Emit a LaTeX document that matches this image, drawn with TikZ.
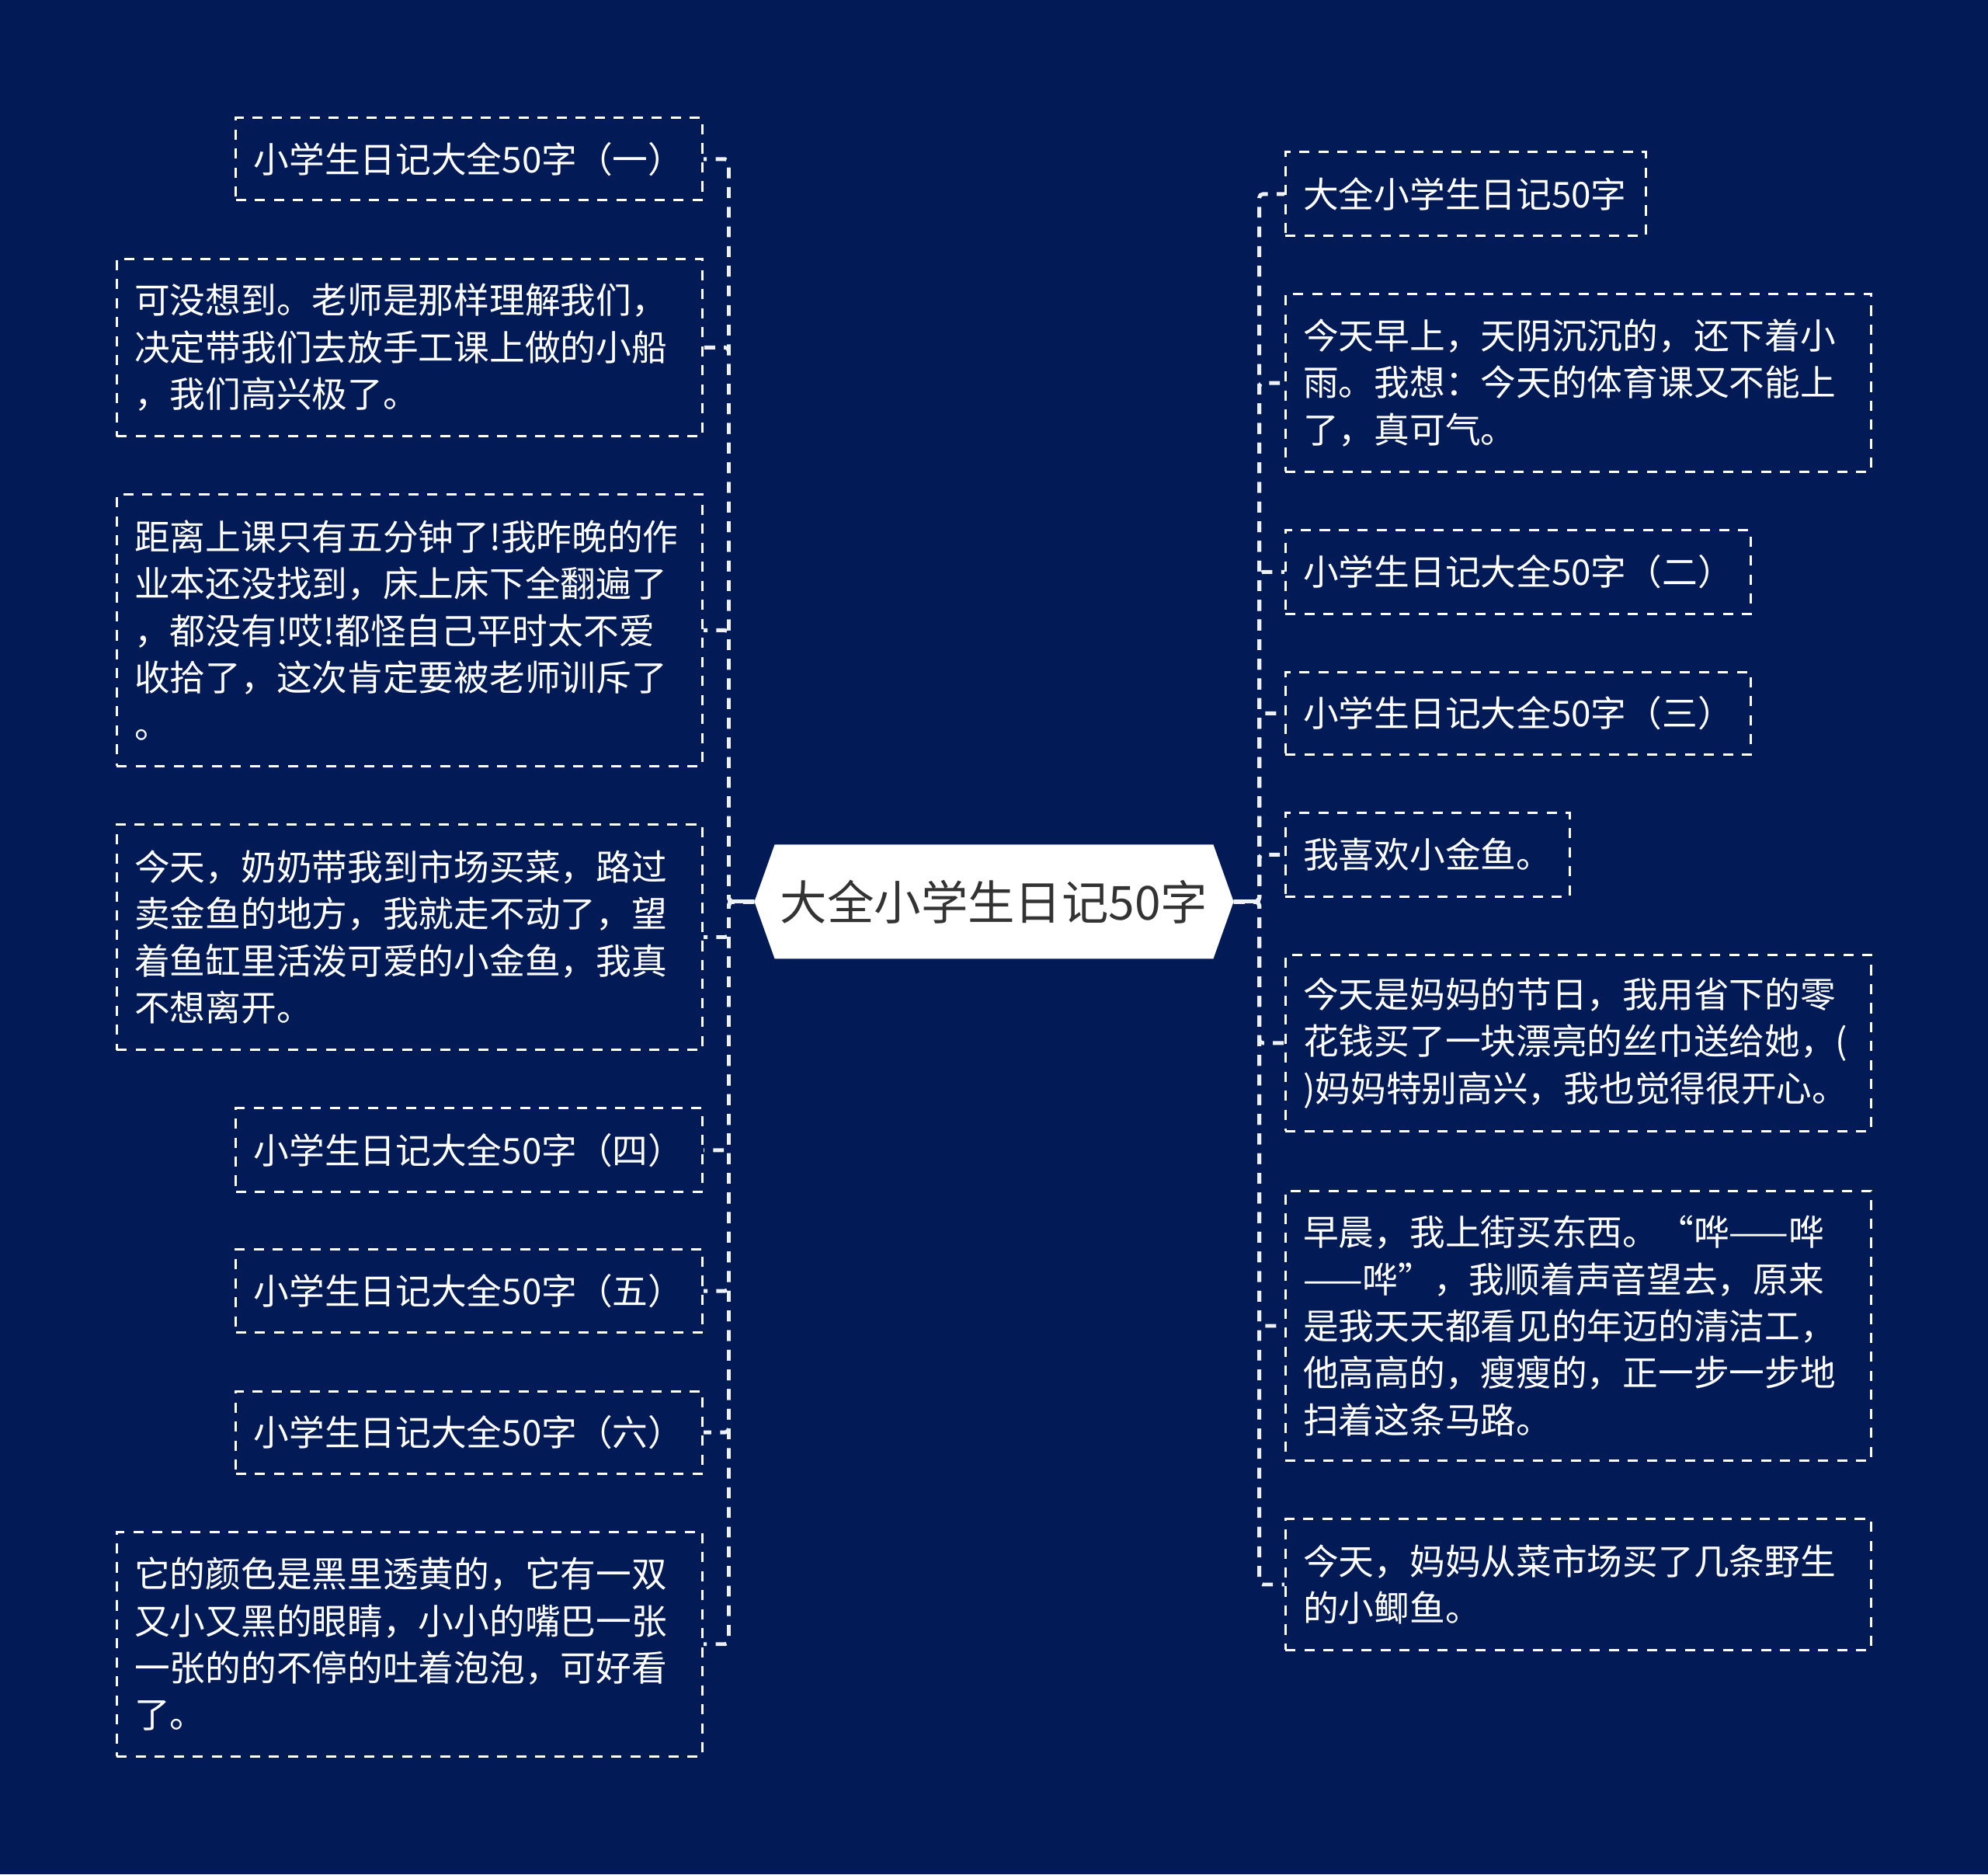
\documentclass[tikz,border=0pt]{standalone}
\usepackage{fontspec}
\newfontfamily\cjk{Noto Sans CJK SC}
\definecolor{bg}{HTML}{021B57}
\definecolor{linec}{HTML}{EEF1F7}
\definecolor{ctext}{HTML}{333333}
\begin{document}
\begin{tikzpicture}[x=1pt,y=1pt,
  leaf/.style={draw=white, line width=1.8pt, dash pattern=on 8pt off 7pt,
    text=white, font=\cjk\fontsize{28pt}{37pt}\selectfont,
    inner xsep=14pt, inner ysep=0pt, align=left, text width=#1},
  lbox/.style={anchor=east},
  rbox/.style={anchor=west},
  conn/.style={draw=linec, line width=3pt, dash pattern=on 8.5pt off 7pt, rounded corners=3pt},
  stub/.style={draw=linec, line width=3pt},
  center/.style={fill=bg, minimum width=378pt, minimum height=90pt, inner sep=0pt,
    text=ctext, font=\cjk\fontsize{37pt}{44pt}\selectfont,
    path picture={\fill[white]
      ([xshift=16pt]path picture bounding box.north west) --
      ([xshift=-16pt]path picture bounding box.north east) --
      (path picture bounding box.east) --
      ([xshift=-16pt]path picture bounding box.south east) --
      ([xshift=16pt]path picture bounding box.south west) --
      (path picture bounding box.west) -- cycle;}}
]
\useasboundingbox (0,0) rectangle (1568,-1478);
\fill[bg] (0,0) rectangle (1568,-1478);

\node[center] (c) at (784,-711) {大全小学生日记50字};

% left boxes
\node[leaf=340pt, lbox, minimum height=65pt] (L1) at (555,-125.5) {小学生日记大全50字（一）};
\node[leaf=434pt, lbox, minimum height=140pt] (L2) at (555,-274) {可没想到。老师是那样理解我们，\\决定带我们去放手工课上做的小船\\，我们高兴极了。};
\node[leaf=434pt, lbox, minimum height=214pt] (L3) at (555,-497) {距离上课只有五分钟了!我昨晚的作\\业本还没找到，床上床下全翻遍了\\，都没有!哎!都怪自己平时太不爱\\收拾了，这次肯定要被老师训斥了\\。};
\node[leaf=434pt, lbox, minimum height=178pt] (L4) at (555,-739) {今天，奶奶带我到市场买菜，路过\\卖金鱼的地方，我就走不动了，望\\着鱼缸里活泼可爱的小金鱼，我真\\不想离开。};
\node[leaf=340pt, lbox, minimum height=66pt] (L5) at (555,-907) {小学生日记大全50字（四）};
\node[leaf=340pt, lbox, minimum height=66pt] (L6) at (555,-1018) {小学生日记大全50字（五）};
\node[leaf=340pt, lbox, minimum height=65pt] (L7) at (555,-1129.5) {小学生日记大全50字（六）};
\node[leaf=434pt, lbox, minimum height=177pt] (L8) at (555,-1296.5) {它的颜色是黑里透黄的，它有一双\\又小又黑的眼睛，小小的嘴巴一张\\一张的的不停的吐着泡泡，可好看\\了。};

% right boxes
\node[leaf=256pt, rbox, minimum height=66pt] (R1) at (1013,-153) {大全小学生日记50字};
\node[leaf=434pt, rbox, minimum height=140pt] (R2) at (1013,-302) {今天早上，天阴沉沉的，还下着小\\雨。我想：今天的体育课又不能上\\了，真可气。};
\node[leaf=339pt, rbox, minimum height=66pt] (R3) at (1013,-451) {小学生日记大全50字（二）};
\node[leaf=339pt, rbox, minimum height=65pt] (R4) at (1013,-562.5) {小学生日记大全50字（三）};
\node[leaf=196pt, rbox, minimum height=66pt] (R5) at (1013,-674) {我喜欢小金鱼。};
\node[leaf=434pt, rbox, minimum height=139pt] (R6) at (1013,-822.5) {今天是妈妈的节日，我用省下的零\\花钱买了一块漂亮的丝巾送给她，(\\)妈妈特别高兴，我也觉得很开心。};
\node[leaf=434pt, rbox, minimum height=213pt] (R7) at (1013,-1045.5) {早晨，我上街买东西。“哗——哗\\——哗”，我顺着声音望去，原来\\是我天天都看见的年迈的清洁工，\\他高高的，瘦瘦的，正一步一步地\\扫着这条马路。};
\node[leaf=434pt, rbox, minimum height=103pt] (R8) at (1013,-1249.5) {今天，妈妈从菜市场买了几条野生\\的小鲫鱼。};

% connectors
\foreach \n in {L1,L2,L3,L4,L5,L6,L7,L8}
  \draw[conn] (c.west) -- ++(-20,0) |- (\n.east);
\foreach \n in {R1,R2,R3,R4,R5,R6,R7,R8}
  \draw[conn] (c.east) -- ++(20,0) |- (\n.west);
\draw[stub] (c.west) -- ++(-20,0);
\draw[stub] (c.east) -- ++(20,0);
\end{tikzpicture}
\end{document}
